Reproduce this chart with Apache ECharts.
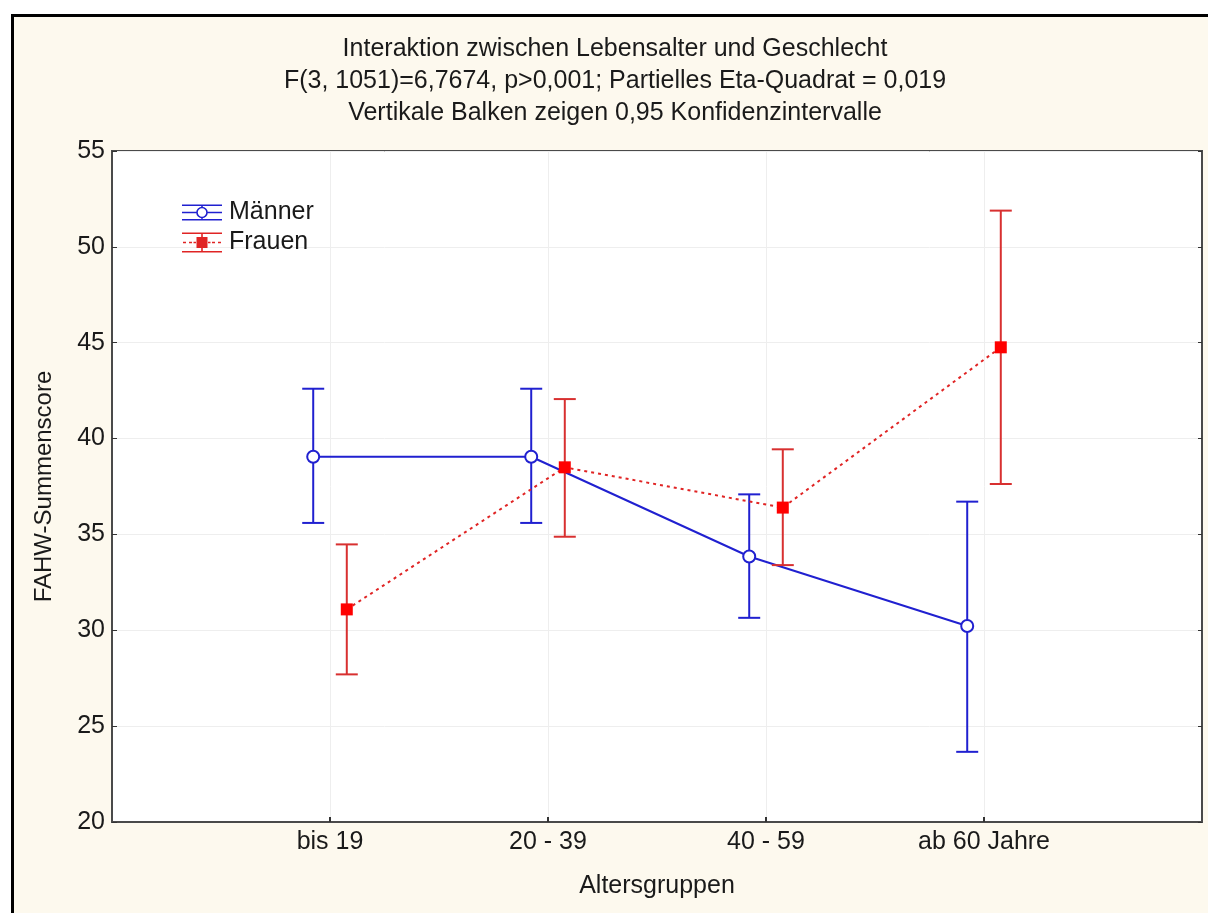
<!DOCTYPE html>
<html>
<head>
<meta charset="utf-8">
<script src="https://cdn.jsdelivr.net/npm/echarts@6/dist/echarts.min.js"></script>
<style>
  html, body { margin: 0; padding: 0; width: 1208px; height: 913px; overflow: hidden; background: #ffffff; }
  #frame { position: absolute; left: 11px; top: 14px; width: 1400px; height: 1100px; border: 3px solid #000; background: #fdf9ee; }
  #chart { position: absolute; left: 0; top: 0; width: 1208px; height: 913px; }
</style>
</head>
<body>
<div id="frame"></div>
<div id="chart"></div>
<script>
const titleLines = [
  'Interaktion zwischen Lebensalter und Geschlecht',
  'F(3, 1051)=6,7674, p>0,001; Partielles Eta-Quadrat = 0,019',
  'Vertikale Balken zeigen 0,95 Konfidenzintervalle'
];
const categories = ['bis 19', '20 - 39', '40 - 59', 'ab 60 Jahre'];
const seriesNames = ['Männer', 'Frauen'];
const maennerMean  = [39.05, 39.05, 33.85, 30.22];
const maennerLower = [35.60, 35.60, 30.65, 23.66];
const maennerUpper = [42.60, 42.60, 37.09, 36.71];
const frauenMean   = [31.09, 38.50, 36.40, 44.76];
const frauenLower  = [27.70, 34.88, 33.40, 37.63];
const frauenUpper  = [34.48, 42.06, 39.44, 51.89];
const yTicks = [20, 25, 30, 35, 40, 45, 50, 55];

const BLUE = '#2020d0';
const RED = '#e02424';
const RED_BAR = '#d83030';
const OFFSET = 0.077;
const FONT = '"Liberation Sans", Arial, sans-serif';
const TXT = '#1a1a1a';

const lineData = (arr, off) => arr.map((v, i) => [i + 1 + off, v]);
const ciData = (lo, hi, off) => lo.map((v, i) => [i + 1 + off, v, hi[i]]);

function errRender(color) {
  return function (params, api) {
    const x = api.value(0);
    const lo = api.coord([x, api.value(1)]);
    const hi = api.coord([x, api.value(2)]);
    const hw = 11;
    const st = { stroke: color, lineWidth: 2 };
    return {
      type: 'group',
      children: [
        { type: 'line', shape: { x1: lo[0], y1: lo[1], x2: hi[0], y2: hi[1] }, style: st },
        { type: 'line', shape: { x1: lo[0] - hw, y1: lo[1], x2: lo[0] + hw, y2: lo[1] }, style: st },
        { type: 'line', shape: { x1: hi[0] - hw, y1: hi[1], x2: hi[0] + hw, y2: hi[1] }, style: st }
      ]
    };
  };
}

// legend icons (40 x 20 box)
const iconM = 'path://M0,2H40V3.6H0Z M0,16.4H40V18H0Z ' +
  'M19.2,3.6H20.8V4.4H19.2Z M19.2,15.6H20.8V16.4H19.2Z ' +
  'M0,9.2H14.4V10.8H0Z M25.6,9.2H40V10.8H25.6Z ' +
  'M14.2,10A5.8,5.8 0 1,1 25.8,10A5.8,5.8 0 1,1 14.2,10Z ' +
  'M15.8,10A4.2,4.2 0 1,0 24.2,10A4.2,4.2 0 1,0 15.8,10Z ' +
  'M0,0H0.01V20H0Z';
const iconF = 'path://M0,0H40V1.6H0Z M0,18.4H40V20H0Z ' +
  'M19.2,0H20.8V20H19.2Z ' +
  'M1,9.2H4V10.8H1Z M7,9.2H10V10.8H7Z M11.5,9.2H14V10.8H11.5Z ' +
  'M26,9.2H28.5V10.8H26Z M30,9.2H33V10.8H30Z M36,9.2H39V10.8H36Z ' +
  'M14.5,4.5H25.5V15.5H14.5Z';

const chart = echarts.init(document.getElementById('chart'), null, { renderer: 'canvas' });
chart.setOption({
  backgroundColor: 'transparent',
  animation: false,
  textStyle: { fontFamily: FONT },
  title: {
    text: titleLines.join('\n'),
    left: 610,
    top: 28,
    textAlign: 'center',
    textStyle: { fontFamily: FONT, fontSize: 25, fontWeight: 'normal', color: TXT, lineHeight: 32 }
  },
  legend: {
    orient: 'vertical',
    left: 177,
    top: 195,
    itemWidth: 40,
    itemHeight: 20,
    itemGap: 5,
    selectedMode: false,
    textStyle: { fontFamily: FONT, fontSize: 25, color: TXT, padding: [0, 0, 0, 2] },
    data: [
      { name: seriesNames[0], icon: iconM, itemStyle: { color: BLUE, borderWidth: 0 } },
      { name: seriesNames[1], icon: iconF, itemStyle: { color: RED, borderWidth: 0 } }
    ]
  },
  grid: {
    left: 112, top: 151, right: 6, bottom: 91,
    show: true, backgroundColor: '#ffffff', borderColor: '#4a4a4a', borderWidth: 2
  },
  xAxis: {
    type: 'value',
    min: 0, max: 5, interval: 1,
    name: 'Altersgruppen',
    nameLocation: 'middle',
    nameGap: 52,
    nameTextStyle: { fontFamily: FONT, fontSize: 25, color: TXT, verticalAlign: 'top' },
    axisLine: { show: true, lineStyle: { color: '#4a4a4a', width: 2 } },
    axisTick: { show: true, inside: true, length: 5, lineStyle: { color: '#333', width: 2 } },
    axisLabel: {
      fontFamily: FONT, fontSize: 25, color: TXT, margin: 8,
      showMinLabel: false, showMaxLabel: false,
      formatter: v => (v >= 1 && v <= 4) ? categories[v - 1] : ''
    },
    splitLine: { show: true, lineStyle: { color: '#eeeeee', width: 1 } }
  },
  yAxis: [{
    type: 'value',
    min: yTicks[0], max: yTicks[yTicks.length - 1], interval: 5,
    name: 'FAHW-Summenscore',
    nameLocation: 'middle',
    nameGap: 56,
    nameTextStyle: { fontFamily: FONT, fontSize: 24, color: TXT },
    axisLine: { show: true, lineStyle: { color: '#4a4a4a', width: 2 } },
    axisTick: { show: true, inside: true, length: 5, lineStyle: { color: '#333', width: 1 } },
    axisLabel: { fontFamily: FONT, fontSize: 25, color: TXT, margin: 7 },
    splitLine: { show: true, lineStyle: { color: '#eeeeee', width: 1 } }
  }, {
    type: 'value', position: 'right',
    min: yTicks[0], max: yTicks[yTicks.length - 1], interval: 5,
    axisLine: { show: true, lineStyle: { color: '#4a4a4a', width: 2 } },
    axisTick: { show: true, inside: true, length: 4, lineStyle: { color: '#333', width: 1 } },
    axisLabel: { show: false },
    splitLine: { show: false }
  }],
  series: [
    {
      name: seriesNames[0], type: 'line', z: 3,
      data: lineData(maennerMean, -OFFSET),
      symbol: 'circle', symbolSize: 12,
      itemStyle: { color: '#ffffff', borderColor: BLUE, borderWidth: 2 },
      lineStyle: { color: BLUE, width: 2 }
    },
    {
      name: seriesNames[0], type: 'custom', z: 2,
      data: ciData(maennerLower, maennerUpper, -OFFSET),
      encode: { x: 0, y: [1, 2] },
      renderItem: errRender(BLUE)
    },
    {
      name: seriesNames[1], type: 'line', z: 5,
      data: lineData(frauenMean, OFFSET),
      symbol: 'rect', symbolSize: 12,
      itemStyle: { color: '#ff0000', borderWidth: 0 },
      lineStyle: { color: RED, width: 2, type: [3, 4] }
    },
    {
      name: seriesNames[1], type: 'custom', z: 4,
      data: ciData(frauenLower, frauenUpper, OFFSET),
      encode: { x: 0, y: [1, 2] },
      renderItem: errRender(RED_BAR)
    }
  ]
});
</script>
</body>
</html>
